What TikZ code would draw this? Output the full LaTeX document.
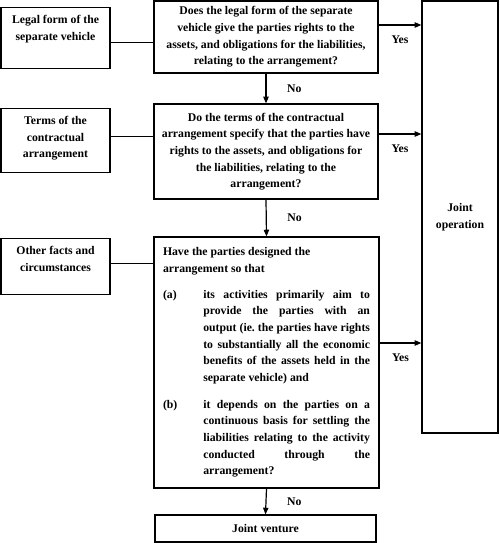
\documentclass[tikz,border=0pt]{standalone}
\usepackage{fontspec}
\setmainfont{Liberation Serif}
\usetikzlibrary{calc,arrows.meta,positioning}
\newcommand{\fullline}[1]{\makebox[\linewidth][s]{\spaceskip=0pt\relax#1}}

\begin{document}
\begin{tikzpicture}[x=0.75pt, y=-0.75pt,
    every node/.style={font=\bfseries\frenchspacing\fontsize{8.8}{12.5}\selectfont,
        execute at begin node={\spaceskip=\fontdimen2\font\relax}},
    box/.style={draw, line width=0.9pt, rectangle},
    src/.style={box, anchor=north, text width=75pt, align=center, inner xsep=3.375pt, inner ysep=5pt, text height=7pt},
    qbox/.style={box, text width=160pt, align=center, inner xsep=4pt, inner ysep=0pt},
    arr/.style={line width=0.9pt, -{Triangle[length=5pt,width=4pt]}}]
    \useasboundingbox(0,0)rectangle(500,543);
    % sources
    \node[src, text depth=28.75pt](l1)at(55.5,7){Legal form of the\\separate vehicle};
    \node[src, text depth=31pt](l2)at(55.5,108){Terms of the\\contractual\\arrangement};
    \node[src, text depth=25pt](l3)at(55.5,238){Other facts and\\circumstances};
    % questions
    \node[qbox, minimum height=54pt](q1)at(266,37){Does the legal form of the separate\\vehicle give the parties rights to the\\assets, and obligations for the liabilities,\\relating to the arrangement?};
    \node[qbox, minimum height=71.25pt](q2)at(266,151.5){Do the terms of the contractual\\arrangement specify that the parties have\\rights to the assets, and obligations for\\the liabilities, relating to the\\arrangement?};
    \node[box, text width=155.25pt, align=left, inner xsep=6.75pt, inner ysep=0pt, minimum height=188.25pt](q3)at(266.5,362.5){Have the parties designed the\\arrangement so that\\[7pt]
        \makebox[30.25pt][l]{(a)}\parbox[t]{125pt}{\fullline{its activities primarily aim to}\\
            \fullline{provide the parties with an}\\
            \fullline{output (ie. the parties have rights}\\
            \fullline{to substantially all the economic}\\
            \fullline{benefits of the assets held in the}\\
            separate vehicle) and}\\[11pt]
        \makebox[30.25pt][l]{(b)}\parbox[t]{125pt}{\fullline{it depends on the parties on a}\\
            \fullline{continuous basis for settling the}\\
            \fullline{liabilities relating to the activity}\\
            \fullline{conducted through the}\\
            arrangement?}};
    % outcomes
    \node[box, align=center, minimum width=57pt, minimum height=324pt](op)at(460,217){Joint\\operation};
    \node[box, minimum width=165.75pt, minimum height=20.25pt](jv)at(265.5,528.5){Joint venture};
    % inputs
    \path[draw, line width=0.9pt]($(l1.east)+(0,4.5)$)to($(l1.east-|q1.west)+(0,4.5)$);
    \path[draw, line width=0.9pt]($(l2.east)+(0,-4)$)to($(l2.east-|q2.west)+(0,-4)$);
    \path[draw, line width=0.9pt]($(l3.east)+(0,-3)$)to($(l3.east-|q3.west)+(0,-3)$);
    % yes
    \coordinate(y1)at($(q1.east)+(0,-12)$);
    \coordinate(y2)at($(q2.east)+(0,-17.5)$);
    \coordinate(y3)at($(q3.east)+(0,-19.5)$);
    \path[draw, arr](y1)to node[below=4pt]{Yes}(y1-|op.west);
    \path[draw, arr](y2)to node[below=4pt]{Yes}(y2-|op.west);
    \path[draw, arr](y3)to node[below=4pt]{Yes}(y3-|op.west);
    % no
    \path[draw, arr](q1.south)to node[right=12pt]{No}(q2.north);
    \path[draw, arr](q2.south)to node[right=12pt]{No}(q3.north);
    \path[draw, arr](q3.south)to node[right=12pt]{No}(jv.north);
\end{tikzpicture}
\end{document}
